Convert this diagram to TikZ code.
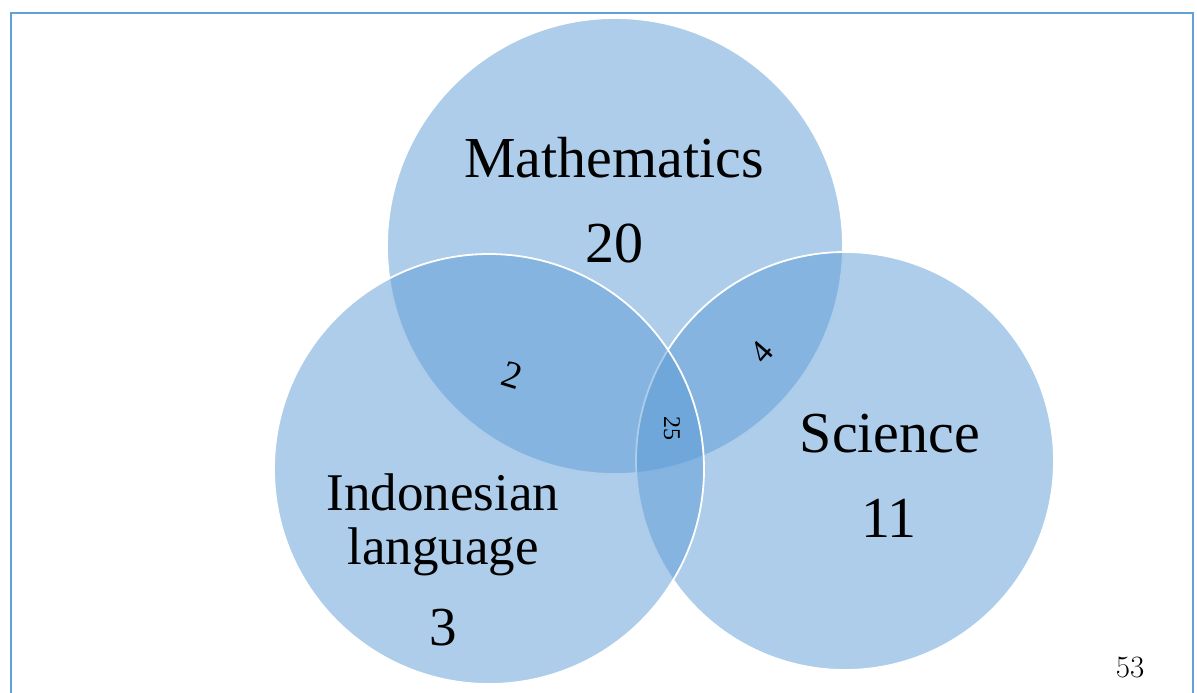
\documentclass[tikz,border=0pt]{standalone}
\usepackage{fontspec}
\newfontfamily\tnr{Liberation Serif}
\definecolor{vennblue}{RGB}{91,155,213}
\definecolor{framecol}{RGB}{98,160,218}
\tikzset{
  venn/.style={circle, inner sep=0pt, fill=vennblue, fill opacity=0.5, draw=white, line width=1.8pt},
  lbl/.style={anchor=base, inner sep=0pt, text=black, font=\tnr\fontsize{#1}{#1}\selectfont},
  small/.style={inner sep=0pt, text=black, font=\tnr\fontsize{#1}{#1}\selectfont}
}
\begin{document}
\begin{tikzpicture}[x=1pt,y=-1pt]
\useasboundingbox (0,0) rectangle (1197,693);
\clip (0,0) rectangle (1197,693);
\draw[framecol, line width=2pt] (11,13) rectangle (1193,720);
\node[venn, minimum size=456pt] (math) at (615,246) {};
\node[venn, minimum size=418pt] (sci) at (845,461) {};
\node[venn, minimum size=430pt] (ind) at (489,469) {};
\node[lbl=58] (tmath) at (614,177) {Mathematics};
\node[lbl=58] (nmath) at (614,262) {20};
\node[lbl=58] (tsci) at (890,452) {Science};
\node[lbl=58] (nsci) at (889,537) {11};
\node[lbl=53] (tind1) at (443,510) {Indonesian};
\node[lbl=53] (tind2) at (443,564) {language};
\node[lbl=55] (nind) at (443,645) {3};
\node[small=38, rotate=-17] (nmi) at (512,375) {2};
\node[small=33, rotate=49] (nms) at (762,352) {4};
\node[small=24, rotate=-90] (nall) at (672,428) {25};
\node[anchor=base, inner sep=0pt, font=\fontsize{31}{31}\selectfont] (page) at (1130,677) {53};
\end{tikzpicture}
\end{document}
